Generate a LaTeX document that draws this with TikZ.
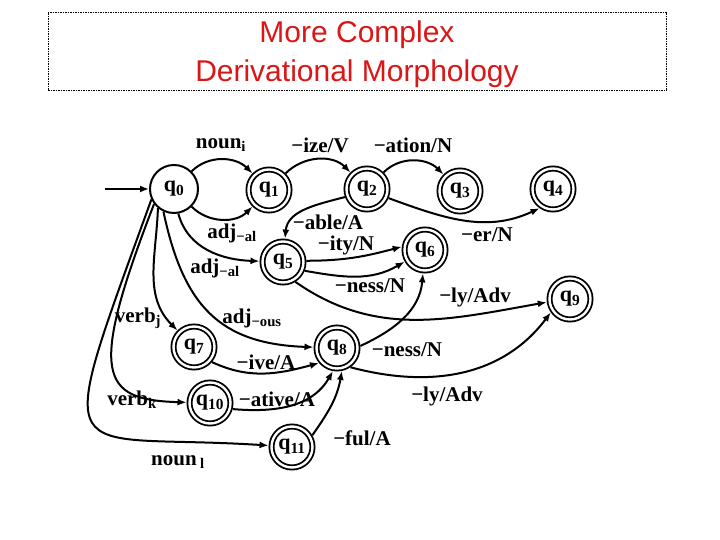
\documentclass[tikz,border=0pt]{standalone}
\usepackage{fontspec}
\setmainfont{Liberation Serif}
\newfontfamily\titlefont{Liberation Sans}
\usepackage{tikz}
\usetikzlibrary{arrows.meta, positioning}
\definecolor{morphred}{RGB}{218,22,22}
\newcommand{\statefont}{\fontsize{22}{22}\selectfont\bfseries}
\newcommand{\lblfont}{\fontsize{21}{21}\selectfont\bfseries}
\tikzset{
  titlebox/.style={draw, dash pattern=on 1.5pt off 1pt, line width=0.6pt,
                   minimum width=618pt, minimum height=78pt, align=center,
                   text=morphred, font=\titlefont\fontsize{30}{39}\selectfont},
  initbox/.style={circle, draw, line width=2pt, minimum size=48pt,
                  inner sep=0pt, font=\statefont},
  acceptbox/.style={circle, draw, line width=1.8pt, double, double distance=2.4pt,
                    minimum size=41pt, inner sep=0pt, outer sep=3pt, font=\statefont},
  arrow/.style={-{Latex[length=9pt,width=7pt]}, line width=2pt},
  lbl/.style={font=\lblfont, inner sep=1pt},
}
\begin{document}
\begin{tikzpicture}[x=1pt, y=1pt]
    \useasboundingbox (0,0) rectangle (720,540);
    \draw[titlebox] (48,450) rectangle (666,528);
    \node[text=morphred, align=center, font=\titlefont\fontsize{30}{39}\selectfont]
      (title) at (357,486) {More Complex\\Derivational Morphology};

    % states
    \coordinate (start) at (105,351);
    \node[initbox] (q0) at (174,351) {q\textsubscript{0}};
    \node[acceptbox] (q1) at (269,350) {q\textsubscript{1}};
    \node[acceptbox] (q2) at (367,351) {q\textsubscript{2}};
    \node[acceptbox] (q3) at (460,349) {q\textsubscript{3}};
    \node[acceptbox] (q4) at (553,351) {q\textsubscript{4}};
    \node[acceptbox] (q5) at (283,278) {q\textsubscript{5}};
    \node[acceptbox] (q6) at (425,290) {q\textsubscript{6}};
    \node[acceptbox] (q7) at (194,193) {q\textsubscript{7}};
    \node[acceptbox] (q8) at (337,192) {q\textsubscript{8}};
    \node[acceptbox] (q9) at (570,241) {q\textsubscript{9}};
    \node[acceptbox] (q10) at (210,137) {q\textsubscript{10}};
    \node[acceptbox] (q11) at (292,93) {q\textsubscript{11}};

    % transitions
    \draw[arrow] (start) -- (q0);
    \draw[arrow] (q0) to[out=45, in=135] (q1);
    \draw[arrow] (q0) to[out=-45, in=-135] (q1);
    \draw[arrow] (q1) to[out=45, in=135] (q2);
    \draw[arrow] (q2) to[out=45, in=135] (q3);
    \draw[arrow] (q2.-23) to[out=-20, in=205] (q4.-125);
    \draw[arrow] (q2.-160) to[out=195, in=85] (q5.85);
    \draw[arrow] (q0.-80) to[out=-75, in=178] (q5);
    \draw[arrow] (q5.3) to[out=0, in=195] (q6.172);
    \draw[arrow] (q5.-22) to[out=-10, in=210] (q6.-150);
    \draw[arrow] (q5.-58) to[out=-35, in=190] (q9.-172);
    \draw[arrow] (q0.-130) to[out=-92, in=135] (q7);
    \draw[arrow] (q0.-115) to[out=-78, in=178, looseness=1.2] (q8);
    \draw[arrow] (q0.-143) .. controls (88,165) and (100,140) .. (q10);
    \draw[arrow] (q0.-155) .. controls (50,60) and (58,108) .. (q11);
    \draw[arrow] (q7.-40) to[out=-25, in=195] (q8.-140);
    \draw[arrow] (q10.-15) to[out=-5, in=-120] (q8.-100);
    \draw[arrow] (q11.30) to[out=55, in=-100] (q8.-78);
    \draw[arrow] (q8.5) to[out=25, in=-95] (q6);
    \draw[arrow] (q8.-55) to[out=-15, in=-127] (q9.-145);

    % labels
    \node[lbl] (lnouni) at (221,395) {noun\textsubscript{i}};
    \node[lbl] (lize) at (320,395) {−ize/V};
    \node[lbl] (lation) at (413,395) {−ation/N};
    \node[lbl] (lable) at (328,318) {−able/A};
    \node[lbl] (lity) at (346,295) {−ity/N};
    \node[lbl] (ler) at (487,305) {−er/N};
    \node[lbl] (ladjal) at (232,307) {adj\textsubscript{−al}};
    \node[lbl] (ladjalb) at (215,272) {adj\textsubscript{−al}};
    \node[lbl] (lnessa) at (370,254) {−ness/N};
    \node[lbl] (llya) at (475,243) {−ly/Adv};
    \node[lbl] (lverbj) at (138,222) {verb\textsubscript{j}};
    \node[lbl] (ladjous) at (252,222) {adj\textsubscript{−ous}};
    \node[lbl] (live) at (266,178) {−ive/A};
    \node[lbl] (lnessb) at (407,190) {−ness/N};
    \node[lbl] (lverbk) at (132,140) {verb\textsubscript{k}};
    \node[lbl] (lative) at (277,141) {−ative/A};
    \node[lbl] (llyb) at (447,144) {−ly/Adv};
    \node[lbl] (lful) at (362,102) {−ful/A};
    \node[lbl] (lnounl) at (178,78) {noun\,\textsubscript{l}};
\end{tikzpicture}
\end{document}
